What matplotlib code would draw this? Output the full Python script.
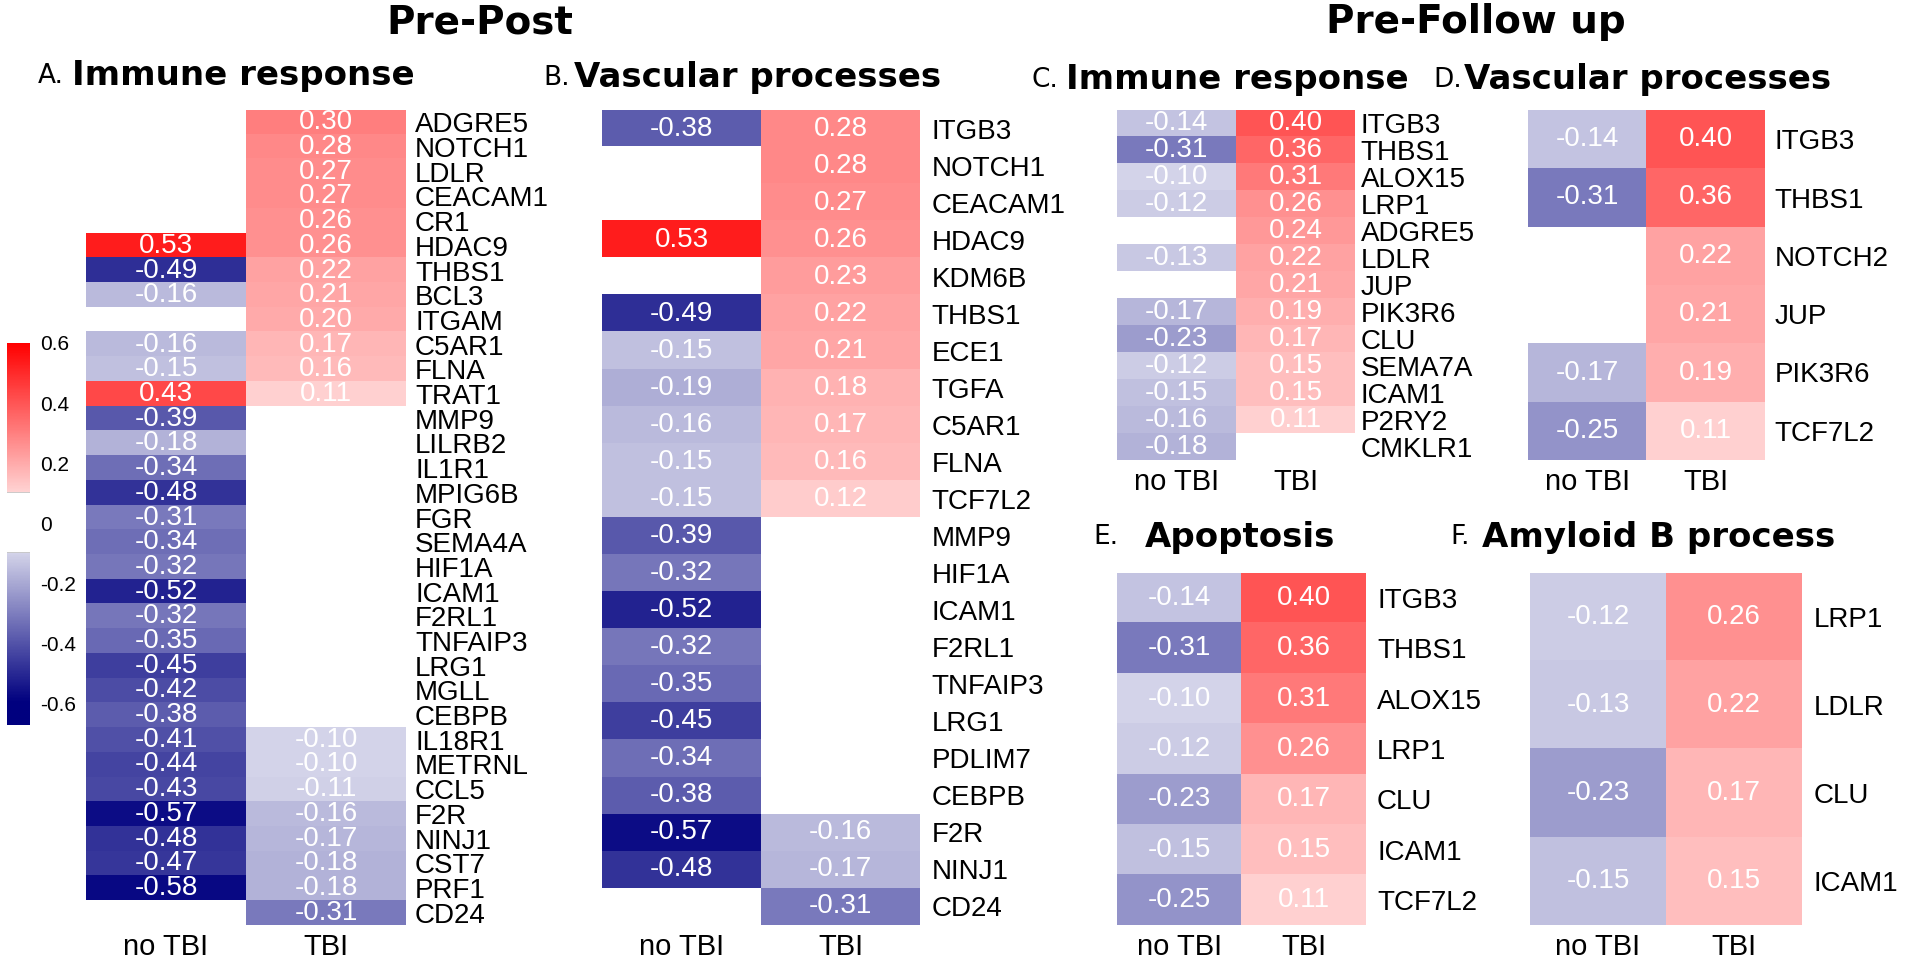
import numpy as np
import matplotlib
matplotlib.use("Agg")
import matplotlib.pyplot as plt
from matplotlib.colors import LinearSegmentedColormap, Normalize

# --- Data (Spearman-like correlations, NaN = not significant)
nan = np.nan
groups = ["no TBI", "TBI"]

genes_a = ["ADGRE5", "NOTCH1", "LDLR", "CEACAM1", "CR1", "HDAC9", "THBS1", "BCL3",
           "ITGAM", "C5AR1", "FLNA", "TRAT1", "MMP9", "LILRB2", "IL1R1", "MPIG6B",
           "FGR", "SEMA4A", "HIF1A", "ICAM1", "F2RL1", "TNFAIP3", "LRG1", "MGLL",
           "CEBPB", "IL18R1", "METRNL", "CCL5", "F2R", "NINJ1", "CST7", "PRF1", "CD24"]
notbi_a = [nan, nan, nan, nan, nan, 0.53, -0.49, -0.16, nan, -0.16, -0.15, 0.43,
           -0.39, -0.18, -0.34, -0.48, -0.31, -0.34, -0.32, -0.52, -0.32, -0.35,
           -0.45, -0.42, -0.38, -0.41, -0.44, -0.43, -0.57, -0.48, -0.47, -0.58, nan]
tbi_a = [0.30, 0.28, 0.27, 0.27, 0.26, 0.26, 0.22, 0.21, 0.20, 0.17, 0.16, 0.11,
         nan, nan, nan, nan, nan, nan, nan, nan, nan, nan, nan, nan, nan,
         -0.10, -0.10, -0.11, -0.16, -0.17, -0.18, -0.18, -0.31]

genes_b = ["ITGB3", "NOTCH1", "CEACAM1", "HDAC9", "KDM6B", "THBS1", "ECE1", "TGFA",
           "C5AR1", "FLNA", "TCF7L2", "MMP9", "HIF1A", "ICAM1", "F2RL1", "TNFAIP3",
           "LRG1", "PDLIM7", "CEBPB", "F2R", "NINJ1", "CD24"]
notbi_b = [-0.38, nan, nan, 0.53, nan, -0.49, -0.15, -0.19, -0.16, -0.15, -0.15,
           -0.39, -0.32, -0.52, -0.32, -0.35, -0.45, -0.34, -0.38, -0.57, -0.48, nan]
tbi_b = [0.28, 0.28, 0.27, 0.26, 0.23, 0.22, 0.21, 0.18, 0.17, 0.16, 0.12,
         nan, nan, nan, nan, nan, nan, nan, nan, -0.16, -0.17, -0.31]

genes_c = ["ITGB3", "THBS1", "ALOX15", "LRP1", "ADGRE5", "LDLR", "JUP", "PIK3R6",
           "CLU", "SEMA7A", "ICAM1", "P2RY2", "CMKLR1"]
notbi_c = [-0.14, -0.31, -0.10, -0.12, nan, -0.13, nan, -0.17, -0.23, -0.12,
           -0.15, -0.16, -0.18]
tbi_c = [0.40, 0.36, 0.31, 0.26, 0.24, 0.22, 0.21, 0.19, 0.17, 0.15, 0.15, 0.11, nan]

genes_d = ["ITGB3", "THBS1", "NOTCH2", "JUP", "PIK3R6", "TCF7L2"]
notbi_d = [-0.14, -0.31, nan, nan, -0.17, -0.25]
tbi_d = [0.40, 0.36, 0.22, 0.21, 0.19, 0.11]

genes_e = ["ITGB3", "THBS1", "ALOX15", "LRP1", "CLU", "ICAM1", "TCF7L2"]
notbi_e = [-0.14, -0.31, -0.10, -0.12, -0.23, -0.15, -0.25]
tbi_e = [0.40, 0.36, 0.31, 0.26, 0.17, 0.15, 0.11]

genes_f = ["LRP1", "LDLR", "CLU", "ICAM1"]
notbi_f = [-0.12, -0.13, -0.23, -0.15]
tbi_f = [0.26, 0.22, 0.17, 0.15]

cbar_ticks = [-0.6, -0.4, -0.2, 0, 0.2, 0.4, 0.6]
cbar_labels = ["-0.6", "-0.4", "-0.2", "0", "0.2", "0.4", "0.6"]

# --- Style
W, H = 1908, 963
plt.rcParams["font.family"] = ["Liberation Sans", "DejaVu Sans"]
cmap = LinearSegmentedColormap.from_list("tbi", ["#00007f", "#ffffff", "#ff0000"])
norm = Normalize(vmin=-0.6, vmax=0.6)

fig = plt.figure(figsize=(W / 100, H / 100), dpi=100)


def px_axes(x0, y0, x1, y1):
    # pixel box (top-left origin) -> figure axes
    return fig.add_axes([x0 / W, 1 - y1 / H, (x1 - x0) / W, (y1 - y0) / H])


def heat(box, genes, col0, col1, lab_pad, fs=20, lab_fs=20):
    ax = px_axes(*box)
    data = np.array([col0, col1], dtype=float).T
    n = len(genes)
    ax.imshow(np.ma.masked_invalid(data), cmap=cmap, norm=norm, aspect="auto",
              interpolation="nearest", extent=(-0.5, 1.5, n - 0.5, -0.5))
    for i in range(n):
        for j in range(2):
            v = data[i, j]
            if not np.isnan(v):
                ax.text(j, i, "%.2f" % v, ha="center", va="center",
                        color="white", fontsize=fs)
    ax.set_xlim(-0.5, 1.5)
    ax.set_ylim(n - 0.5, -0.5)
    ax.yaxis.tick_right()
    ax.set_yticks(range(n))
    ax.set_yticklabels(genes, fontsize=lab_fs)
    ax.set_xticks([0, 1])
    ax.set_xticklabels(groups, fontsize=21)
    ax.tick_params(length=0, pad=lab_pad)
    ax.tick_params(axis="x", pad=6)
    for s in ax.spines.values():
        s.set_visible(False)
    return ax


heat((86, 110, 406, 925), genes_a, notbi_a, tbi_a, 6.5)
heat((602, 110, 920, 925), genes_b, notbi_b, tbi_b, 8.5)
heat((1117, 110, 1355, 460), genes_c, notbi_c, tbi_c, 4)
heat((1528, 110, 1765, 460), genes_d, notbi_d, tbi_d, 7)
heat((1117, 573, 1366, 925), genes_e, notbi_e, tbi_e, 8)
heat((1530, 573, 1802, 925), genes_f, notbi_f, tbi_f, 8.5)

# --- Colour bar with a white gap around zero
cax = px_axes(7, 343, 30, 725)
grad = np.linspace(-0.673, 0.6, 400)
grad_m = np.ma.masked_where(np.abs(grad) < 0.1, grad)
cax.imshow(grad_m[:, None], cmap=cmap, norm=norm, aspect="auto", origin="lower",
           extent=(0, 1, -0.673, 0.6))
cax.set_ylim(-0.673, 0.6)
cax.set_xticks([])
cax.yaxis.tick_right()
cax.set_yticks(cbar_ticks)
cax.set_yticklabels(cbar_labels, fontsize=15)
cax.tick_params(length=0, pad=7)
for s in cax.spines.values():
    s.set_visible(False)


# --- Titles
def title(x_letter, x_word, y, letter, word):
    fig.text(x_letter / W, 1 - y / H, letter, fontsize=19, va="center",
             family="DejaVu Sans")
    fig.text(x_word / W, 1 - y / H, word, fontsize=24.5, va="center",
             fontweight="bold", family="DejaVu Sans")


fig.text(480 / W, 1 - 22 / H, "Pre-Post", fontsize=28, fontweight="bold",
         ha="center", va="center", family="DejaVu Sans")
fig.text(1476 / W, 1 - 22 / H, "Pre-Follow up", fontsize=28, fontweight="bold",
         ha="center", va="center", family="DejaVu Sans")
title(38, 72, 76, "A.", "Immune response")
title(543, 574, 78, "B.", "Vascular processes")
title(1032, 1066, 80, "C.", "Immune response")
title(1433, 1464, 80, "D.", "Vascular processes")
title(1093, 1145, 537, "E.", "Apoptosis")
title(1450, 1482, 537, "F.", "Amyloid B process")

fig.savefig("out.png", dpi=100)
